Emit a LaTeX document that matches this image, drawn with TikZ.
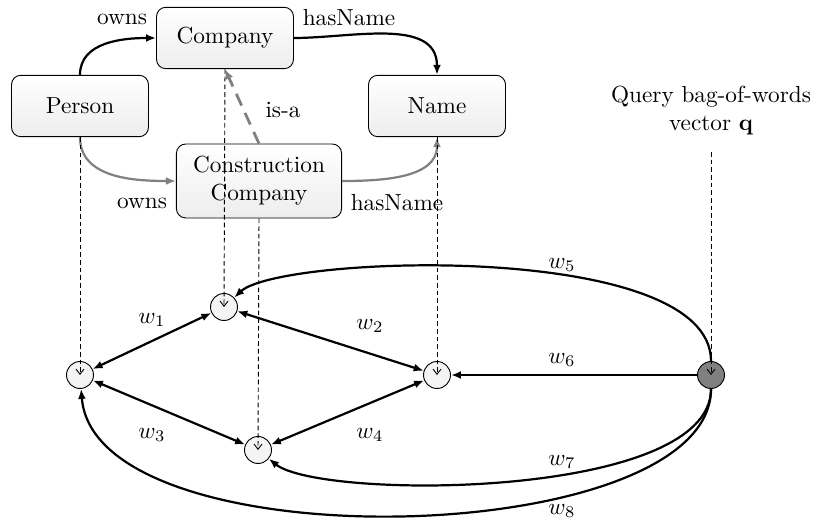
\documentclass[tikz,border=0pt]{standalone}
\usetikzlibrary{arrows.meta,shadings}
\begin{document}
\begin{tikzpicture}[x=0.43pt, y=0.43pt,
  concept/.style={draw, rounded corners=4pt, top color=white, bottom color=gray!14,
                  minimum width=58.9pt, minimum height=26.4pt, inner sep=2pt, align=center},
  unit/.style={draw, circle, fill=gray!9, minimum size=11.6pt, inner sep=0pt},
  qunit/.style={draw, circle, fill=gray, minimum size=11.6pt, inner sep=0pt},
  tip/.style={Latex[length=4.3pt,width=3.4pt]},
  rel/.style={line width=0.95pt, -{Latex[length=4.3pt,width=3.4pt]}},
  grel/.style={line width=0.95pt, gray, -{Latex[length=4.3pt,width=3.4pt]}},
  link/.style={line width=0.95pt, {Latex[length=4.3pt,width=3.4pt]}-{Latex[length=4.3pt,width=3.4pt]}},
  qlink/.style={line width=0.95pt, -{Latex[length=4.3pt,width=3.4pt]}},
  drop/.style={dash pattern=on 2pt off 1.3pt, -{Straight Barb[length=2.2pt,width=3.4pt]}},
  lbl/.style={inner sep=1pt}
]
\useasboundingbox (0,0) rectangle (816,-524);

% ontology concepts
\node[concept] (company) at (225,-38) {Company};
\node[concept] (person)  at (80,-106) {Person};
\node[concept] (name)    at (437,-106) {Name};
\node[concept, minimum width=71pt, minimum height=31.8pt] (cc) at (259,-181) {Construction\\Company};

% relations between concepts
\draw[rel]  (person.north) to[out=90, in=180] (company.west);
\draw[rel]  (company.east) to[out=0, in=90] (name.north);
\draw[grel] (person.south) to[out=-90, in=180] (cc.west);
\draw[grel] (cc.east) to[out=0, in=-90] (name.south);
\draw[line width=1.2pt, gray, dash pattern=on 5.5pt off 3.5pt, -{Latex[length=4.3pt,width=3.6pt]}] (cc.north) -- (company.south);

\node[lbl] (l-owns1) at (122,-19) {owns};
\node[lbl] (l-has1)  at (349,-18) {hasName};
\node[lbl] (l-owns2) at (142,-203) {owns};
\node[lbl] (l-has2)  at (397,-203) {hasName};
\node[lbl] (l-isa)   at (283,-110) {is-a};

% query
\node[align=center] (query) at (711,-111) {Query bag-of-words\\vector $\mathbf{q}$};
\coordinate (qtop) at (711,-152);

% network units
\node[unit]  (c0) at (80,-375) {};
\node[unit]  (c1) at (224,-307) {};
\node[unit]  (c2) at (437,-375) {};
\node[unit]  (c3) at (258,-450) {};
\node[qunit] (q)  at (711,-375) {};

% weighted links
\draw[link] (c0) -- (c1);
\draw[link] (c1) -- (c2);
\draw[link] (c0) -- (c3);
\draw[link] (c3) -- (c2);
\draw[qlink] (q) -- (c2);
\draw[qlink] (q.north) .. controls (711,-240) and (280,-255) .. (c1);
\draw[qlink] (q.south) .. controls (711,-500) and (320,-500) .. (c3);
\draw[qlink] (q.south) .. controls (711,-550) and (95,-565) .. (c0);

\node[lbl] (w1) at (152,-320) {$w_1$};
\node[lbl] (w2) at (370,-326) {$w_2$};
\node[lbl] (w3) at (152,-435) {$w_3$};
\node[lbl] (w4) at (370,-435) {$w_4$};
\node[lbl] (w5) at (562,-265) {$w_5$};
\node[lbl] (w6) at (562,-360) {$w_6$};
\node[lbl] (w7) at (562,-462) {$w_7$};
\node[lbl] (w8) at (562,-511) {$w_8$};

% projections of concepts and query onto units
\draw[drop] (person.south) -- (c0.center);
\draw[drop] (company.south) -- (c1.center);
\draw[drop] (cc.south) -- (c3.center);
\draw[drop] (name.south) -- (c2.center);
\draw[drop] (qtop) -- (q.center);
\end{tikzpicture}
\end{document}
